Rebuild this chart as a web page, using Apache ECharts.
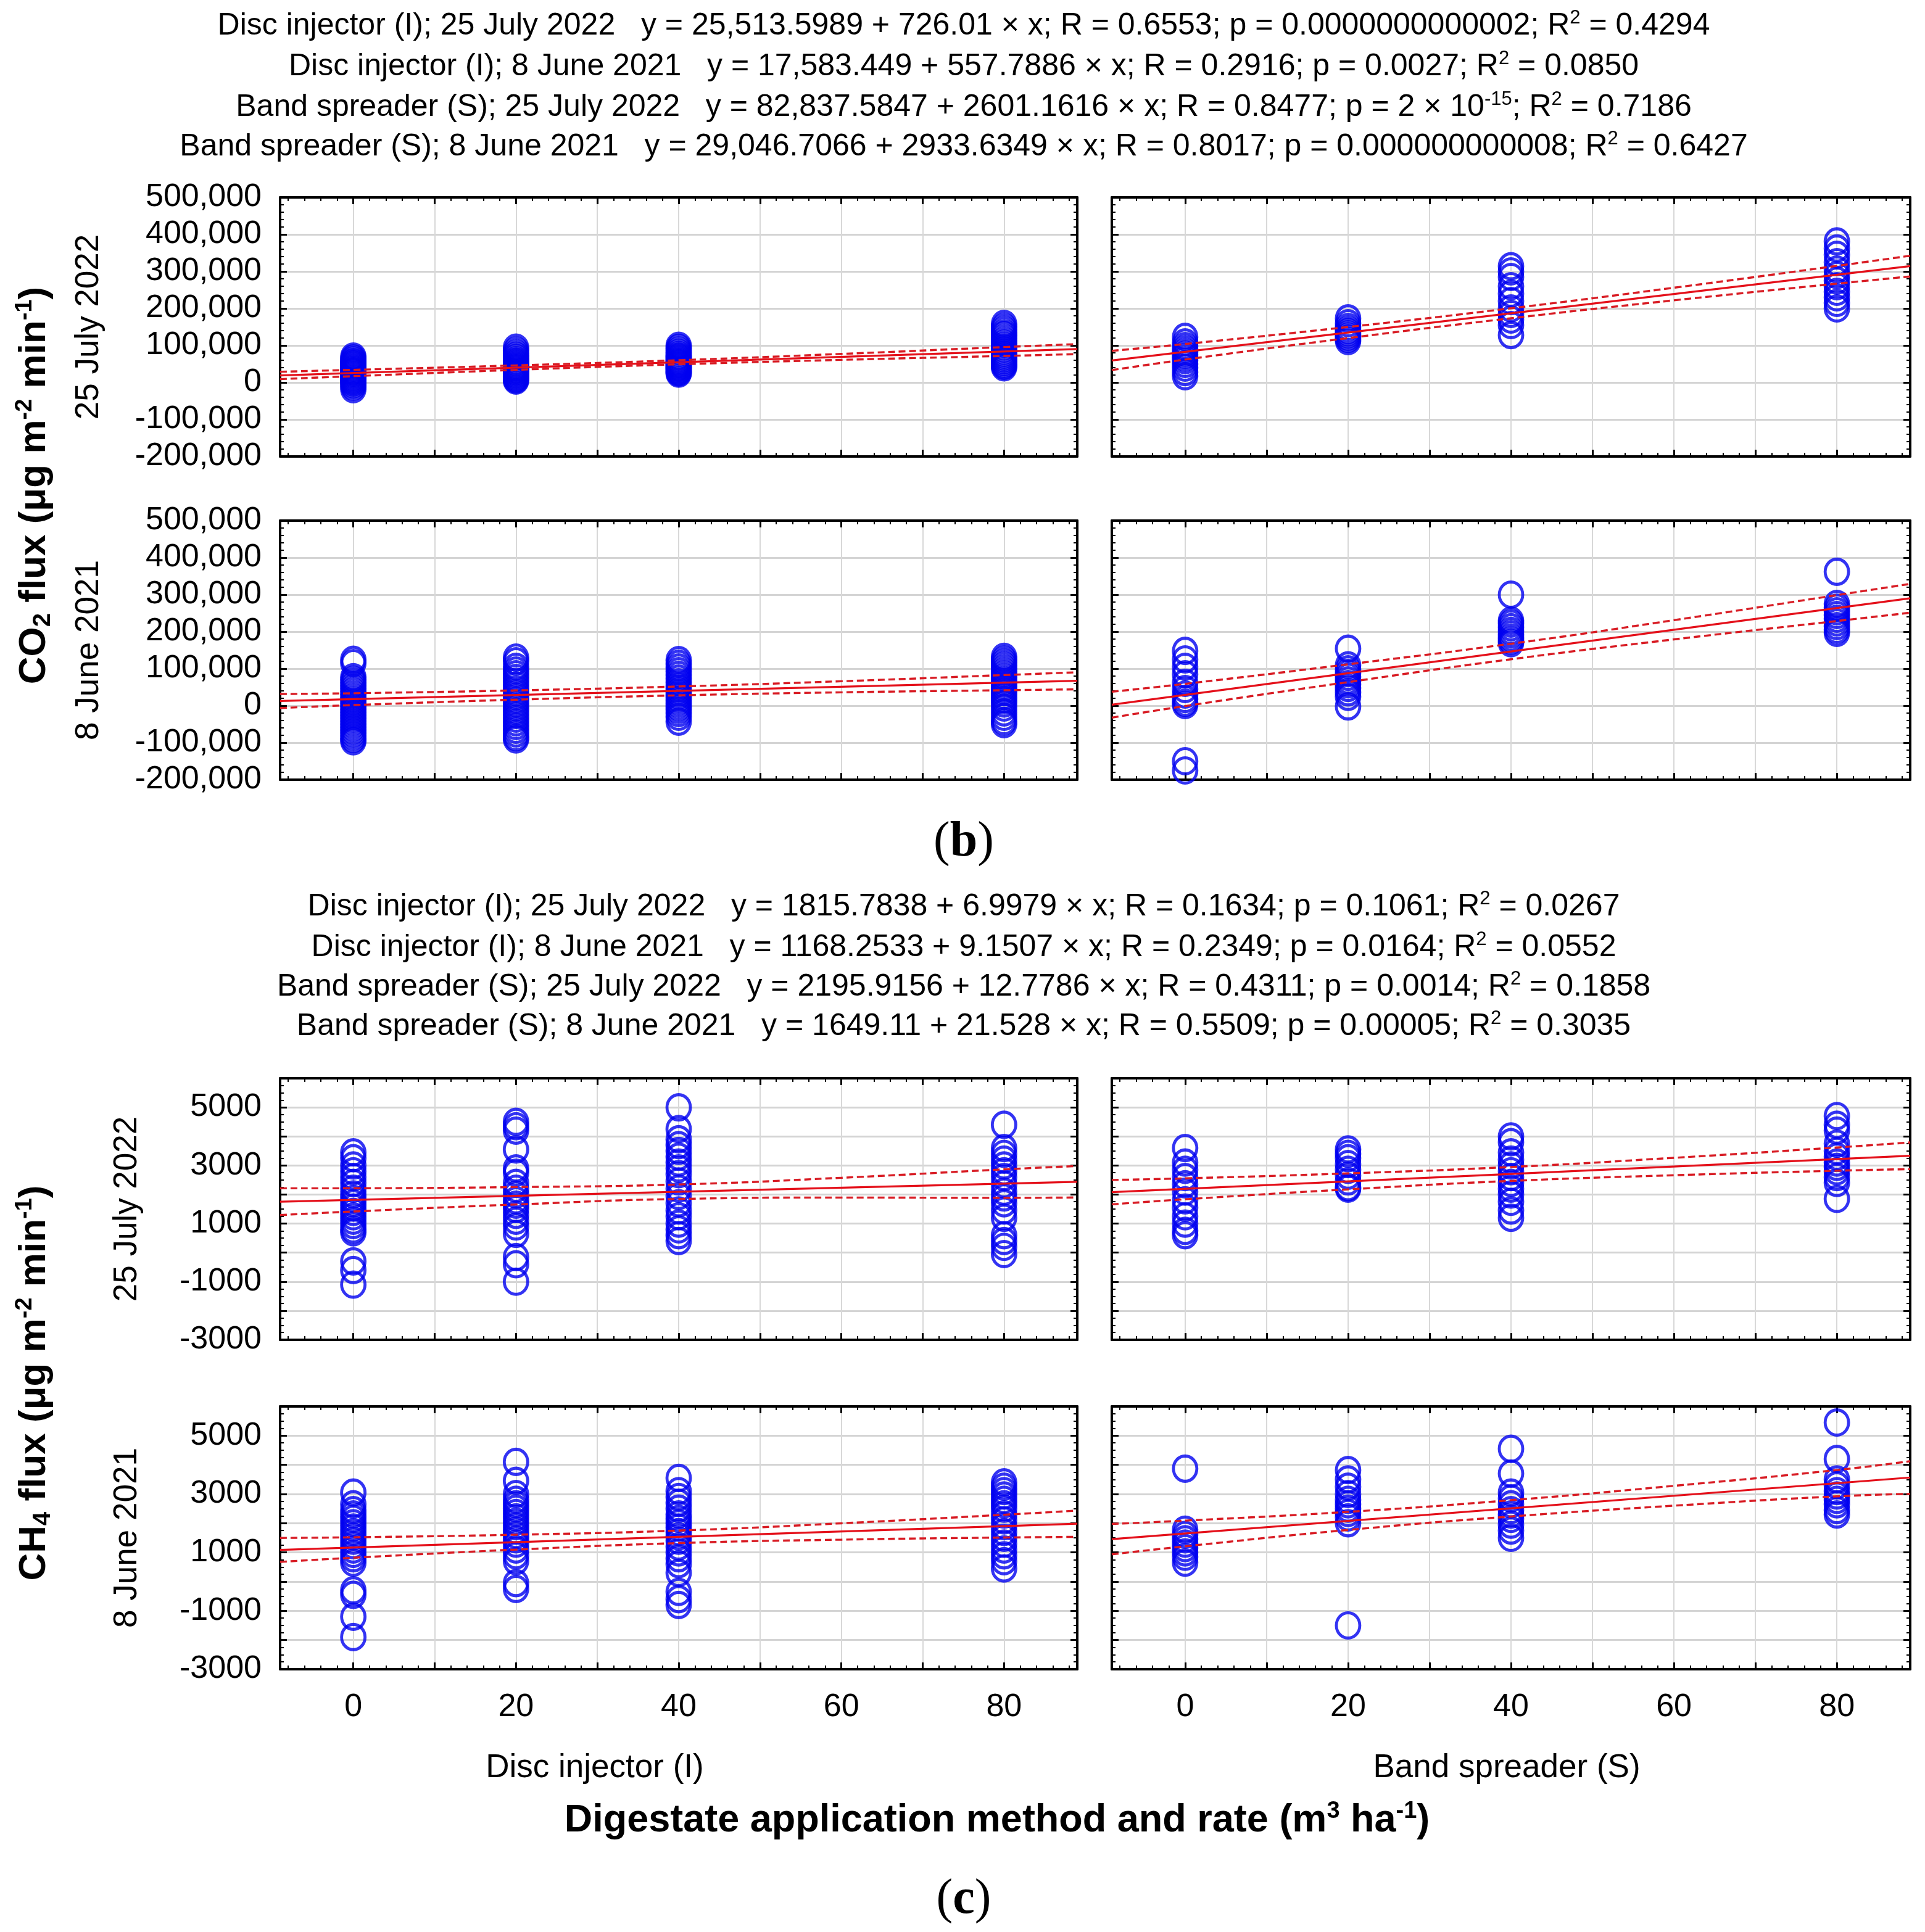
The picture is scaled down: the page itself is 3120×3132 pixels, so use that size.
<!DOCTYPE html>
<html>
<head>
<meta charset="utf-8">
<script src="https://cdn.jsdelivr.net/npm/echarts@6/dist/echarts.min.js"></script>
<style>
  html, body { margin: 0; padding: 0; background: #fff; }
  #chart { width: 3120px; height: 3132px; }
</style>
</head>
<body>
<div id="chart"></div>
<script>
// application rates (m3 ha-1) where the measurements were taken
var rates = [0, 20, 40, 80];
var bandX = [-9, 0, 20, 40, 60, 80, 89];

// CO2 flux, 25 July 2022, disc injector (one array per rate)
var co2JulI = [
  [70000, 65000, 60000, 55000, 52000, 48000, 44000, 40000, 36000, 33000, 30000, 27000, 24000, 20000, 16000, 12000, 8000, 4000, 0, -5000, -11000, -18000],
  [94000, 86000, 78000, 72000, 66000, 60000, 56000, 52000, 48000, 44000, 41000, 38000, 35000, 31000, 28000, 24000, 20000, 16000, 12000, 8000, 5000],
  [99000, 93000, 86000, 80000, 74000, 70000, 66000, 62000, 58000, 55000, 52000, 49000, 46000, 43000, 40000, 37000, 34000, 30000, 27000, 24000],
  [158000, 150000, 142000, 133000, 128000, 120000, 112000, 105000, 98000, 92000, 86000, 80000, 75000, 70000, 65000, 60000, 55000, 50000, 45000, 41000]
];
// CO2 flux, 25 July 2022, band spreader
var co2JulS = [
  [123000, 108000, 98000, 90000, 82000, 75000, 68000, 60000, 50000, 40000, 28000, 17000],
  [173000, 160000, 150000, 142000, 136000, 130000, 124000, 118000, 112000],
  [314000, 300000, 285000, 260000, 240000, 220000, 200000, 185000, 170000, 155000, 128000],
  [381000, 362000, 345000, 325000, 305000, 290000, 275000, 260000, 245000, 230000, 215000, 200000]
];
// CO2 flux, 8 June 2021, disc injector
var co2JunI = [
  [124000, 115000, 77000, 70000, 62000, 54000, 46000, 38000, 30000, 22000, 14000, 6000, -2000, -10000, -18000, -26000, -34000, -42000, -50000, -58000, -66000, -74000, -82000, -90000, -96000],
  [130000, 120000, 105000, 95000, 85000, 75000, 65000, 55000, 45000, 35000, 25000, 15000, 5000, -5000, -15000, -25000, -35000, -45000, -55000, -65000, -75000, -85000, -91000],
  [123000, 113000, 103000, 93000, 83000, 73000, 63000, 53000, 45000, 37000, 29000, 21000, 13000, 5000, -3000, -11000, -20000, -30000, -43000],
  [132000, 124000, 116000, 108000, 100000, 92000, 84000, 76000, 68000, 60000, 52000, 44000, 36000, 26000, 16000, 6000, -5000, -18000, -30000, -42000, -50000]
];
// CO2 flux, 8 June 2021, band spreader
var co2JunS = [
  [148000, 125000, 105000, 85000, 62000, 45000, 30000, 18000, 8000, 2000, -150000, -175000],
  [154000, 109000, 98000, 88000, 78000, 68000, 58000, 48000, 36000, 24000, -2000],
  [300000, 230000, 222000, 212000, 202000, 193000, 184000, 176000, 169000],
  [362000, 275000, 265000, 255000, 245000, 235000, 225000, 215000, 205000, 197000]
];
// CH4 flux, 25 July 2022, disc injector
var ch4JulI = [
  [3450, 3250, 3000, 2800, 2600, 2400, 2200, 2000, 1850, 1700, 1550, 1400, 1250, 1100, 950, 800, 700, -300, -600, -1100],
  [4500, 4350, 4200, 3550, 2900, 2750, 2400, 2200, 2000, 1800, 1650, 1500, 1300, 1100, 900, 650, -150, -400, -1000],
  [5000, 4250, 3900, 3700, 3500, 3300, 3100, 2900, 2700, 2450, 2200, 1950, 1700, 1450, 1250, 1000, 800, 600, 400],
  [4400, 3600, 3400, 3200, 3000, 2800, 2600, 2350, 2100, 1900, 1700, 1450, 1200, 600, 400, 200, -50]
];
// CH4 flux, 25 July 2022, band spreader
var ch4JulS = [
  [3600, 3100, 2850, 2600, 2350, 2100, 1800, 1550, 1250, 1000, 750, 600],
  [3550, 3400, 3250, 3050, 2850, 2650, 2450, 2250, 2200],
  [4000, 3800, 3450, 3200, 3000, 2800, 2600, 2400, 2200, 2000, 1750, 1450, 1200],
  [4700, 4400, 4200, 3750, 3500, 3300, 3100, 2950, 2800, 2600, 2400, 1850]
];
// CH4 flux, 8 June 2021, disc injector
var ch4JunI = [
  [3050, 2650, 2450, 2300, 2150, 2000, 1850, 1700, 1550, 1400, 1250, 1100, 950, 800, 650, -300, -450, -1200, -1900],
  [4100, 3450, 3000, 2800, 2650, 2500, 2350, 2200, 2050, 1900, 1750, 1600, 1450, 1300, 1100, 900, 700, -50, -250],
  [3550, 3100, 2900, 2700, 2500, 2300, 2150, 2000, 1850, 1700, 1550, 1400, 1200, 1000, 800, 600, 300, -350, -600, -800],
  [3400, 3250, 3100, 2950, 2800, 2650, 2500, 2300, 2100, 1900, 1700, 1500, 1300, 1100, 900, 700, 450]
];
// CH4 flux, 8 June 2021, band spreader
var ch4JunS = [
  [3870, 1780, 1600, 1450, 1300, 1150, 1000, 850, 650],
  [3820, 3500, 3250, 3000, 2800, 2650, 2500, 2350, 2200, 2000, -1500],
  [4550, 3700, 3050, 2850, 2650, 2450, 2300, 2150, 1950, 1750, 1500],
  [5450, 4200, 3500, 3300, 3100, 2950, 2800, 2650, 2450, 2300]
];

// fitted lines [intercept, slope] as printed above the panels
var fitCo2JulI = [25513.5989, 726.01];
var fitCo2JunI = [17583.449, 557.7886];
var fitCo2JulS = [82837.5847, 2601.1616];
var fitCo2JunS = [29046.7066, 2933.6349];
var fitCh4JulI = [1815.7838, 6.9979];
var fitCh4JunI = [1168.2533, 9.1507];
var fitCh4JulS = [2195.9156, 12.7786];
var fitCh4JunS = [1649.11, 21.528];

// half width of the dashed band at bandX
var bandCo2JulI = [10000, 8500, 6000, 5500, 8000, 12000, 13500];
var bandCo2JulS = [26000, 21000, 15000, 13500, 17000, 24000, 28000];
var bandCo2JunI = [19000, 16000, 12500, 12000, 15000, 20500, 23000];
var bandCo2JunS = [35000, 30000, 24000, 21000, 26000, 35000, 39000];
var bandCh4JulI = [460, 400, 300, 250, 340, 490, 540];
var bandCh4JulS = [420, 360, 275, 240, 300, 400, 460];
var bandCh4JunI = [410, 350, 255, 215, 280, 390, 450];
var bandCh4JunS = [520, 440, 310, 280, 340, 450, 560];

var titlesB = [
  'Disc injector (I); 25 July 2022   y = 25,513.5989 + 726.01 × x; R = 0.6553; p = 0.0000000000002; R{sup|2} = 0.4294',
  'Disc injector (I); 8 June 2021   y = 17,583.449 + 557.7886 × x; R = 0.2916; p = 0.0027; R{sup|2} = 0.0850',
  'Band spreader (S); 25 July 2022   y = 82,837.5847 + 2601.1616 × x; R = 0.8477; p = 2 × 10{sup|-15}; R{sup|2} = 0.7186',
  'Band spreader (S); 8 June 2021   y = 29,046.7066 + 2933.6349 × x; R = 0.8017; p = 0.000000000008; R{sup|2} = 0.6427'
];
var titlesC = [
  'Disc injector (I); 25 July 2022   y = 1815.7838 + 6.9979 × x; R = 0.1634; p = 0.1061; R{sup|2} = 0.0267',
  'Disc injector (I); 8 June 2021   y = 1168.2533 + 9.1507 × x; R = 0.2349; p = 0.0164; R{sup|2} = 0.0552',
  'Band spreader (S); 25 July 2022   y = 2195.9156 + 12.7786 × x; R = 0.4311; p = 0.0014; R{sup|2} = 0.1858',
  'Band spreader (S); 8 June 2021   y = 1649.11 + 21.528 × x; R = 0.5509; p = 0.00005; R{sup|2} = 0.3035'
];

var FONT = 'Liberation Sans, Arial, sans-serif';
var cols = [{ left: 454, width: 1292 }, { left: 1802, width: 1294 }];
var rows = [
  { top: 320, height: 420 }, { top: 844, height: 420 },
  { top: 1748, height: 424 }, { top: 2280, height: 426 }
];

var panels = [
  { row: 0, col: 0, pts: co2JulI, fit: fitCo2JulI, band: bandCo2JulI, gas: 'co2' },
  { row: 0, col: 1, pts: co2JulS, fit: fitCo2JulS, band: bandCo2JulS, gas: 'co2' },
  { row: 1, col: 0, pts: co2JunI, fit: fitCo2JunI, band: bandCo2JunI, gas: 'co2' },
  { row: 1, col: 1, pts: co2JunS, fit: fitCo2JunS, band: bandCo2JunS, gas: 'co2' },
  { row: 2, col: 0, pts: ch4JulI, fit: fitCh4JulI, band: bandCh4JulI, gas: 'ch4' },
  { row: 2, col: 1, pts: ch4JulS, fit: fitCh4JulS, band: bandCh4JulS, gas: 'ch4' },
  { row: 3, col: 0, pts: ch4JunI, fit: fitCh4JunI, band: bandCh4JunI, gas: 'ch4' },
  { row: 3, col: 1, pts: ch4JunS, fit: fitCh4JunS, band: bandCh4JunS, gas: 'ch4' }
];

var yScale = {
  co2: { min: -200000, max: 500000, interval: 100000, minor: 5,
         fmt: function (v) { return v.toLocaleString('en-US'); } },
  ch4: { min: -3000, max: 6000, interval: 1000, minor: 4,
         fmt: function (v) { return (v + 3000) % 2000 === 0 ? String(v) : ''; } }
};

var axisLine = { onZero: false, lineStyle: { color: '#000', width: 4 } };
var tick = { inside: true, length: 11, lineStyle: { color: '#000', width: 3 } };
function minor(n) {
  return { show: true, splitNumber: n, length: 6, lineStyle: { color: '#000', width: 2 } };
}

var grids = [], xAxes = [], yAxes = [], series = [];

panels.forEach(function (p, i) {
  var c = cols[p.col], r = rows[p.row], ys = yScale[p.gas];
  grids.push({ left: c.left, top: r.top, width: c.width, height: r.height });

  // bottom and top x axes
  xAxes.push({
    gridIndex: i, type: 'value', min: -9, max: 89, splitNumber: 10, position: 'bottom',
    axisLine: axisLine, axisTick: tick, minorTick: minor(5),
    splitLine: { show: true, lineStyle: { color: '#d8d8d8', width: 2 } },
    axisLabel: {
      show: p.row === 3, margin: 36, color: '#000', fontSize: 52, fontFamily: FONT,
      formatter: function (v) { return (v >= 0 && v <= 80 && v % 20 === 0) ? String(v) : ''; }
    }
  });
  xAxes.push({
    gridIndex: i, type: 'value', min: -9, max: 89, splitNumber: 10, position: 'top',
    axisLine: axisLine, axisTick: tick, minorTick: minor(5),
    splitLine: { show: false }, axisLabel: { show: false }
  });

  // left and right y axes
  yAxes.push({
    gridIndex: i, type: 'value', min: ys.min, max: ys.max, interval: ys.interval, position: 'left',
    axisLine: axisLine, axisTick: tick, minorTick: minor(ys.minor),
    splitLine: { show: true, lineStyle: { color: '#d4d4d4', width: 3 } },
    axisLabel: { show: p.col === 0, margin: 30, color: '#000', fontSize: 52, fontFamily: FONT, formatter: ys.fmt }
  });
  yAxes.push({
    gridIndex: i, type: 'value', min: ys.min, max: ys.max, interval: ys.interval, position: 'right',
    axisLine: axisLine, axisTick: tick, minorTick: minor(ys.minor),
    splitLine: { show: false }, axisLabel: { show: false }
  });

  var xi = 2 * i, yi = 2 * i;
  var pts = [];
  p.pts.forEach(function (vals, k) {
    vals.forEach(function (v) { pts.push([rates[k], v]); });
  });
  series.push({
    type: 'scatter', xAxisIndex: xi, yAxisIndex: yi, data: pts, silent: true, z: 2,
    symbol: 'circle', symbolSize: [38, 41],
    itemStyle: { color: 'rgba(0,0,0,0)', borderColor: '#0000f0', borderWidth: 5 }
  });

  var a = p.fit[0], b = p.fit[1];
  series.push({
    type: 'line', xAxisIndex: xi, yAxisIndex: yi, silent: true, z: 4, symbol: 'none',
    data: [[-9, a - 9 * b], [89, a + 89 * b]],
    lineStyle: { color: '#e4101a', width: 3.2 }
  });
  [1, -1].forEach(function (sgn) {
    series.push({
      type: 'line', xAxisIndex: xi, yAxisIndex: yi, silent: true, z: 4, symbol: 'none', smooth: true,
      data: bandX.map(function (x, k) { return [x, a + b * x + sgn * p.band[k]]; }),
      lineStyle: { color: '#d81c24', width: 3.4, type: [11, 6] }
    });
  });
});

var rich = {
  sup: { fontSize: 31, fontFamily: FONT, verticalAlign: 'top', lineHeight: 31 },
  sub: { fontSize: 33, fontFamily: FONT, verticalAlign: 'bottom', lineHeight: 31 }
};
var richBold = {
  sup: { fontSize: 38, fontWeight: 'bold', fontFamily: FONT, verticalAlign: 'top', lineHeight: 38 },
  sub: { fontSize: 40, fontWeight: 'bold', fontFamily: FONT, verticalAlign: 'bottom', lineHeight: 38 }
};

function text(str, x, y, size, opts) {
  opts = opts || {};
  return {
    type: 'text', x: x, y: y, rotation: opts.rotate ? Math.PI / 2 : 0, silent: true,
    style: {
      text: str, fill: '#000', fontSize: size, fontFamily: opts.family || FONT,
      fontWeight: opts.bold ? 'bold' : 'normal', align: 'center', verticalAlign: 'middle',
      lineHeight: size + 6, rich: opts.rich || rich
    }
  };
}

var graphics = [];
[42, 108, 174, 238].forEach(function (y, k) { graphics.push(text(titlesB[k], 1562, y, 50)); });
[1470, 1536, 1600, 1664].forEach(function (y, k) { graphics.push(text(titlesC[k], 1562, y, 50)); });

var serif = 'Liberation Serif, Times New Roman, serif';
var richLetter = { b: { fontSize: 80, fontWeight: 'bold', fontFamily: serif } };
graphics.push(text('({b|b})', 1562, 1366, 80, { family: serif, rich: richLetter }));
graphics.push(text('({b|c})', 1562, 3080, 80, { family: serif, rich: richLetter }));

graphics.push(text('CO{sub|2} flux (μg m{sup|-2} min{sup|-1})', 56, 787, 62, { bold: true, rotate: true, rich: richBold }));
graphics.push(text('CH{sub|4} flux (μg m{sup|-2} min{sup|-1})', 56, 2242, 62, { bold: true, rotate: true, rich: richBold }));
graphics.push(text('25 July 2022', 144, 530, 53, { rotate: true }));
graphics.push(text('8 June 2021', 144, 1054, 53, { rotate: true }));
graphics.push(text('25 July 2022', 206, 1960, 53, { rotate: true }));
graphics.push(text('8 June 2021', 206, 2493, 53, { rotate: true }));

graphics.push(text('Disc injector (I)', 964, 2866, 53));
graphics.push(text('Band spreader (S)', 2442, 2866, 53));
graphics.push(text('Digestate application method and rate (m{sup|3} ha{sup|-1})', 1616, 2952, 63, { bold: true, rich: richBold }));

var chart = echarts.init(document.getElementById('chart'), null, { renderer: 'canvas' });
chart.setOption({
  backgroundColor: '#fff',
  animation: false,
  grid: grids,
  xAxis: xAxes,
  yAxis: yAxes,
  series: series,
  graphic: graphics
});
</script>
</body>
</html>
